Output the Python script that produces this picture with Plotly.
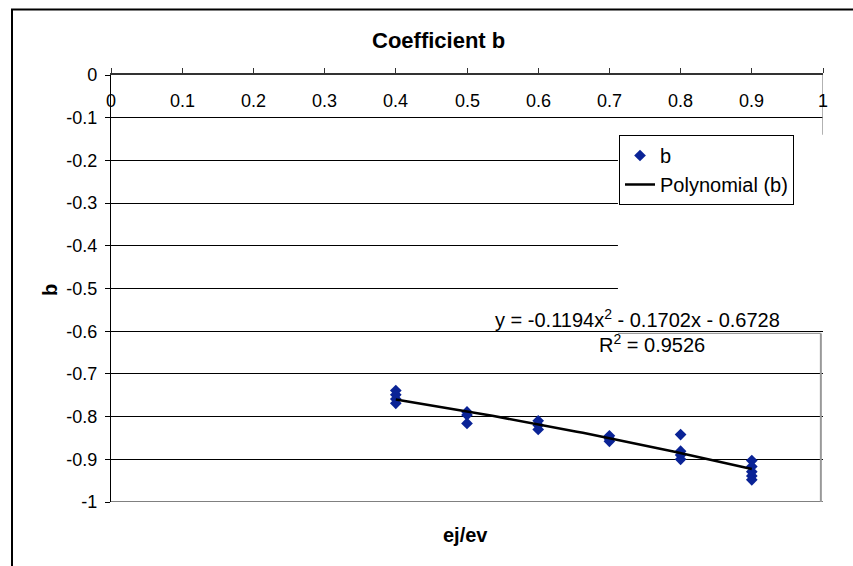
import numpy as np
import plotly.graph_objects as go

# Measured coefficient b against the ratio ej/ev
ej_ev = [0.4, 0.4, 0.4, 0.4,
         0.5, 0.5, 0.5,
         0.6, 0.6, 0.6,
         0.7, 0.7, 0.7,
         0.8, 0.8, 0.8, 0.8,
         0.9, 0.9, 0.9, 0.9, 0.9]
b_values = [-0.739, -0.749, -0.759, -0.769,
            -0.789, -0.796, -0.816,
            -0.810, -0.820, -0.830,
            -0.845, -0.852, -0.858,
            -0.842, -0.881, -0.890, -0.900,
            -0.903, -0.917, -0.929, -0.939, -0.948]

# Second-order polynomial trend line (highest power first) and its fit quality
poly_coeffs = [-0.1194, -0.1702, -0.6728]
r_squared = 0.9526
fit_range = [0.4, 0.9]

x_ticks = [0, 0.1, 0.2, 0.3, 0.4, 0.5, 0.6, 0.7, 0.8, 0.9, 1]
y_ticks = [0, -0.1, -0.2, -0.3, -0.4, -0.5, -0.6, -0.7, -0.8, -0.9, -1]

FONT = "Liberation Sans, Arial, sans-serif"

x_fit = np.linspace(fit_range[0], fit_range[1], 60)
y_fit = np.polyval(poly_coeffs, x_fit)

fig = go.Figure()
fig.add_trace(go.Scatter(
    x=ej_ev, y=b_values, mode="markers", name="b",
    marker=dict(symbol="diamond", size=9, color="#0a2396",
                line=dict(width=0)),
))
fig.add_trace(go.Scatter(
    x=x_fit, y=y_fit, mode="lines", name="Polynomial (b)",
    line=dict(color="black", width=2.5),
))

fig.update_layout(
    width=853, height=566,
    margin=dict(l=111, r=30, t=75, b=64),
    paper_bgcolor="white", plot_bgcolor="white",
    font=dict(family=FONT, size=18, color="black"),
    showlegend=True,
    legend=dict(
        x=0.7135, y=0.8595, xanchor="left", yanchor="top",
        bgcolor="white", bordercolor="black", borderwidth=1,
        font=dict(family=FONT, size=20, color="black"),
        itemwidth=30, tracegroupgap=0,
    ),
)

# x axis sits along the top edge (value 0 of b); its labels hang just below it
fig.update_xaxes(
    range=[0, 1], tickvals=x_ticks,
    side="top", ticks="outside", ticklen=5, tickcolor="#333333",
    showticklabels=False,
    showline=True, linecolor="#333333", linewidth=1.5,
    showgrid=False, zeroline=False,
)
fig.update_yaxes(
    range=[-1, 0], tickvals=y_ticks, ticktext=[f"{v:g}" for v in y_ticks],
    ticks="outside", ticklen=5, tickcolor="black",
    showline=True, linecolor="black", linewidth=1.2,
    showgrid=True, gridcolor="black", gridwidth=1,
    zeroline=False, ticklabelstandoff=4,
    tickfont=dict(family=FONT, size=18, color="black"),
)

shapes = [
    # blank panel behind legend area (hides gridlines there)
    dict(type="rect", xref="x", yref="y", x0=0.712, x1=1.0, y0=-0.598, y1=-0.142,
         fillcolor="white", line=dict(width=0), layer="between"),
    # plot-area bottom and right edges
    dict(type="line", xref="x", yref="y", x0=0, x1=1.0, y0=-1, y1=-1,
         line=dict(color="#808080", width=2), layer="above"),
    dict(type="line", xref="x", yref="y", x0=1.0, x1=1.0, y0=0, y1=-0.14,
         line=dict(color="#999999", width=1.5), layer="above"),
    dict(type="line", xref="x", yref="y", x0=0.712, x1=0.997, y0=-0.605, y1=-0.605,
         line=dict(color="#888888", width=1), layer="above"),
    dict(type="line", xref="x", yref="y", x0=0.997, x1=0.997, y0=-0.605, y1=-1,
         line=dict(color="#999999", width=2), layer="above"),
    # outer chart frame
    dict(type="rect", xref="paper", yref="paper",
         x0=(12 - 111) / 712, x1=(880 - 111) / 712,
         y0=(502 - 600) / 427, y1=(502 - 9.5) / 427,
         line=dict(color="black", width=2), fillcolor="rgba(0,0,0,0)"),
]
fig.update_layout(shapes=shapes)

eq_text = "y = -0.1194x<sup>2</sup> - 0.1702x - 0.6728"
annotations = [
    dict(text="<b>Coefficient b</b>", xref="paper", yref="paper",
         x=(438 - 111) / 712, y=(502 - 41) / 427, xanchor="center", yanchor="middle",
         showarrow=False, font=dict(family=FONT, size=22, color="black")),
    dict(text="<b>ej/ev</b>", xref="paper", yref="paper",
         x=(465 - 111) / 712, y=(502 - 535) / 427, xanchor="center", yanchor="middle",
         showarrow=False, font=dict(family=FONT, size=20, color="black")),
    dict(text="<b>b</b>", xref="paper", yref="paper",
         x=(50 - 111) / 712, y=(502 - 290) / 427, xanchor="center", yanchor="middle",
         textangle=-90, showarrow=False, font=dict(family=FONT, size=20, color="black")),
    dict(text=eq_text, xref="x", yref="y", x=0.74, y=-0.57,
         xanchor="center", yanchor="middle", showarrow=False,
         font=dict(family=FONT, size=20, color="black")),
    dict(text=f"R<sup>2</sup> = {r_squared:.4f}", xref="x", yref="y", x=0.76, y=-0.628,
         xanchor="center", yanchor="middle", showarrow=False,
         font=dict(family=FONT, size=20, color="black")),
]
# x tick labels placed inside the plot, under the top axis line
for v in x_ticks:
    annotations.append(dict(
        text=f"{v:g}", xref="x", yref="y", x=v, y=-0.062,
        xanchor="center", yanchor="middle", showarrow=False,
        font=dict(family=FONT, size=18, color="black"),
    ))
fig.update_layout(annotations=annotations)

fig.write_html("out.html")
